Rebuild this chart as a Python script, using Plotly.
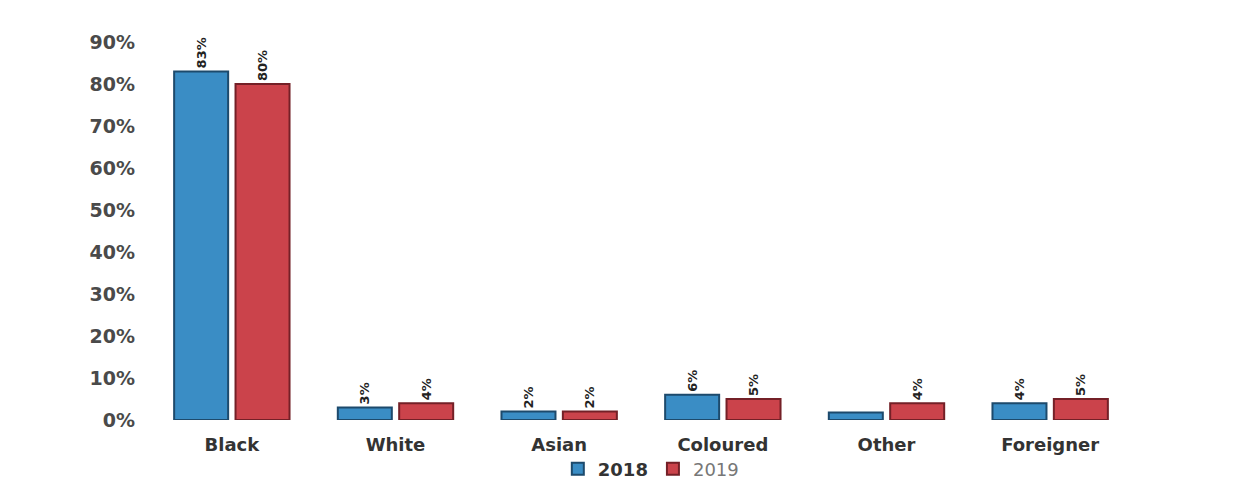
import plotly.graph_objects as go

categories = ["Black", "White", "Asian", "Coloured", "Other", "Foreigner"]
values_2018 = [83, 3, 2, 6, 1.8, 4]
values_2019 = [80, 4, 2, 5, 4, 5]
labels_2018 = ["83%", "3%", "2%", "6%", "", "4%"]
labels_2019 = ["80%", "4%", "2%", "5%", "4%", "5%"]
tick_vals = [0, 10, 20, 30, 40, 50, 60, 70, 80, 90]
tick_text = ["0%", "10%", "20%", "30%", "40%", "50%", "60%", "70%", "80%", "90%"]

label_font = dict(family="DejaVu Sans", size=13, color="#222", weight="bold")

fig = go.Figure()
fig.add_trace(go.Bar(
    name="<b>2018</b>", x=categories, y=values_2018,
    text=labels_2018, textposition="outside", textangle=-90,
    textfont=label_font,
    marker=dict(color="#3a8dc5", line=dict(color="#1d4a6c", width=2)),
    cliponaxis=False,
))
fig.add_trace(go.Bar(
    name="<span style='color:#777'>2019</span>", x=categories, y=values_2019,
    text=labels_2019, textposition="outside", textangle=-90,
    textfont=label_font,
    marker=dict(color="#cb434b", line=dict(color="#742027", width=2)),
    cliponaxis=False,
))

fig.update_layout(
    width=1260, height=486,
    paper_bgcolor="white", plot_bgcolor="white",
    margin=dict(l=150, r=128, t=42, b=66, autoexpand=False),
    barmode="group", bargap=0.25, bargroupgap=0.12,
    font=dict(family="DejaVu Sans", color="#444", size=16),
    showlegend=True,
    legend=dict(orientation="h", x=0.51, xanchor="center",
                yref="container", y=0.035, yanchor="middle",
                bgcolor="rgba(0,0,0,0)",
                font=dict(size=18, color="#333"), itemwidth=30,
                tracegroupgap=0, traceorder="normal"),
    xaxis=dict(showline=False, ticks="", ticklabelstandoff=12,
               tickfont=dict(size=18, color="#333", weight="bold")),
    yaxis=dict(range=[0, 90], tickvals=tick_vals, ticktext=tick_text,
               showgrid=False, zeroline=False, showline=False,
               tickfont=dict(size=19, color="#4a4a4a", weight="bold"),
               ticklabelstandoff=14),
)

fig.write_html("out.html")
